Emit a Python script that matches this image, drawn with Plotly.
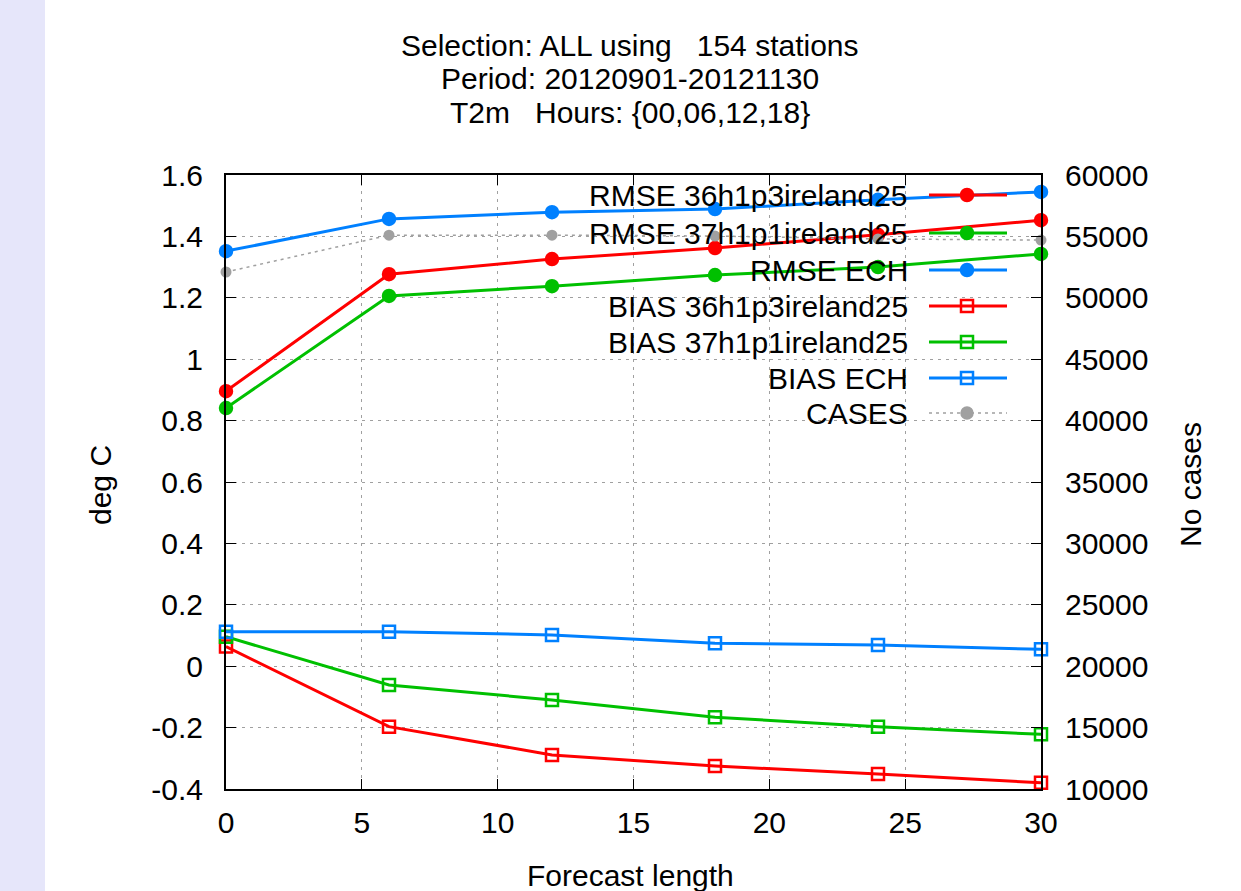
import plotly.graph_objects as go

# ---------------- data ----------------
lead = [0, 6, 12, 18, 24, 30]
rmse_36h1p3 = [0.896, 1.277, 1.326, 1.362, 1.405, 1.453]
rmse_37h1p1 = [0.841, 1.206, 1.238, 1.274, 1.300, 1.343]
rmse_ech = [1.352, 1.457, 1.479, 1.489, 1.519, 1.545]
bias_36h1p3 = [0.064, -0.197, -0.289, -0.325, -0.351, -0.380]
bias_37h1p1 = [0.096, -0.061, -0.110, -0.166, -0.197, -0.222]
bias_ech = [0.112, 0.112, 0.102, 0.075, 0.069, 0.055]
cases = [52100, 55100, 55100, 55030, 54790, 54700]

legend_labels = ["RMSE 36h1p3ireland25", "RMSE 37h1p1ireland25", "RMSE ECH",
                 "BIAS 36h1p3ireland25", "BIAS 37h1p1ireland25", "BIAS ECH", "CASES"]
title_lines = ["Selection: ALL using   154 stations",
               "Period: 20120901-20121130",
               "T2m   Hours: {00,06,12,18}"]

RED = "#ff0000"
GREEN = "#00c000"
BLUE = "#0080ff"
GRAY = "#a0a0a0"
FONT = "Liberation Sans"
FS = 30

# plot-area geometry (pixels)
W, H = 1241, 891
L, R, T, B = 226, 1041, 175, 789
PW, PH = R - L, B - T


def px(x):
    return (x - L) / PW


def py(y):
    return (B - y) / PH


fig = go.Figure()

series = [
    (rmse_36h1p3, RED, "circle", 12),
    (rmse_37h1p1, GREEN, "circle", 12),
    (rmse_ech, BLUE, "circle", 12),
    (bias_36h1p3, RED, "square-open", 12),
    (bias_37h1p1, GREEN, "square-open", 12),
    (bias_ech, BLUE, "square-open", 12),
]
for vals, col, sym, sz in series:
    fig.add_trace(go.Scatter(
        x=lead, y=vals, mode="lines+markers",
        line=dict(color=col, width=3),
        marker=dict(symbol=sym, size=sz, color=col, line=dict(color=col, width=2.5)),
        showlegend=False, cliponaxis=False))

fig.add_trace(go.Scatter(
    x=lead, y=cases, yaxis="y2", mode="lines+markers",
    line=dict(color=GRAY, width=1.5, dash="3px,4px"),
    marker=dict(symbol="circle", size=11, color=GRAY),
    showlegend=False, cliponaxis=False))

# ---------------- manual legend (gnuplot style: text left, sample right) ----------------
row_y = [195, 233, 270, 306, 342, 378, 413]
styles = [
    (RED, "circle", 12, "solid", 3),
    (GREEN, "circle", 12, "solid", 3),
    (BLUE, "circle", 12, "solid", 3),
    (RED, "square-open", 12, "solid", 3),
    (GREEN, "square-open", 12, "solid", 3),
    (BLUE, "square-open", 12, "solid", 3),
    (GRAY, "circle", 11, "3px,4px", 1.5),
]
for lab, yy, (col, sym, sz, dash, lw) in zip(legend_labels, row_y, styles):
    fig.add_annotation(x=px(910), y=py(yy), xref="paper", yref="paper",
                       text=lab, showarrow=False, xanchor="right", yanchor="middle",
                       font=dict(family=FONT, size=FS, color="#000000"))
    fig.add_trace(go.Scatter(
        x=[px(929), px(1007)], y=[py(yy), py(yy)], xaxis="x3", yaxis="y3",
        mode="lines", line=dict(color=col, width=lw, dash=dash),
        showlegend=False, hoverinfo="skip", cliponaxis=False))
    fig.add_trace(go.Scatter(
        x=[px(967)], y=[py(yy)], xaxis="x3", yaxis="y3", mode="markers",
        marker=dict(symbol=sym, size=sz, color=col, line=dict(color=col, width=2.5)),
        showlegend=False, hoverinfo="skip", cliponaxis=False))

# opaque key box hiding the grid behind the legend
fig.add_shape(type="rect", xref="paper", yref="paper",
              x0=px(570), x1=px(1020), y0=py(432), y1=1.0,
              fillcolor="white", line=dict(width=0), layer="between")

# lavender strip at left of page
fig.add_shape(type="rect", xref="paper", yref="paper",
              x0=px(-5), x1=px(45), y0=py(900), y1=py(-10),
              fillcolor="#e6e6fa", line=dict(width=0), layer="below")

# title lines
for txt, yy in zip(title_lines, [46, 79, 113]):
    fig.add_annotation(x=px(630), y=py(yy), xref="paper", yref="paper", text=txt,
                       showarrow=False, xanchor="center", yanchor="middle",
                       font=dict(family=FONT, size=FS, color="#000000"))

# axis titles
fig.add_annotation(x=px(100), y=py(485), xref="paper", yref="paper", text="deg C",
                   textangle=-90, showarrow=False, xanchor="center", yanchor="middle",
                   font=dict(family=FONT, size=FS, color="#000000"))
fig.add_annotation(x=px(1190), y=py(485), xref="paper", yref="paper", text="No cases",
                   textangle=-90, showarrow=False, xanchor="center", yanchor="middle",
                   font=dict(family=FONT, size=FS, color="#000000"))
fig.add_annotation(x=px(630), y=py(875), xref="paper", yref="paper", text="Forecast length",
                   showarrow=False, xanchor="center", yanchor="middle",
                   font=dict(family=FONT, size=FS, color="#000000"))

axis_common = dict(
    showline=True, linecolor="#000000", linewidth=2,
    ticks="inside", ticklen=10, tickwidth=1, tickcolor="#000000",
    gridcolor="#a0a0a0", griddash="3px,5px", gridwidth=1,
    tickfont=dict(family=FONT, size=FS, color="#000000"),
    zeroline=False,
)

fig.update_layout(
    width=W, height=H,
    margin=dict(l=L, r=W - R, t=T, b=H - B),
    paper_bgcolor="white", plot_bgcolor="white",
    font=dict(family=FONT, size=FS, color="#000000"),
    xaxis=dict(range=[0, 30], tickvals=[0, 5, 10, 15, 20, 25, 30], mirror="ticks",
               showgrid=True, ticklabelstandoff=6, **axis_common),
    yaxis=dict(range=[-0.4, 1.6], tickvals=[-0.4, -0.2, 0, 0.2, 0.4, 0.6, 0.8, 1.0, 1.2, 1.4, 1.6],
               ticktext=["-0.4", "-0.2", "0", "0.2", "0.4", "0.6", "0.8", "1", "1.2", "1.4", "1.6"],
               showgrid=True, ticklabelstandoff=15, **axis_common),
    yaxis2=dict(range=[10000, 60000], dtick=5000, tickformat="d", overlaying="y", side="right",
                showgrid=False, ticklabelstandoff=16, **axis_common),
    xaxis3=dict(range=[0, 1], overlaying="x", visible=False, anchor="y3"),
    yaxis3=dict(range=[0, 1], overlaying="y", visible=False, anchor="x3"),
)

fig.write_html("out.html", config={"displayModeBar": False},
               post_script="document.body.style.margin='0px';")
